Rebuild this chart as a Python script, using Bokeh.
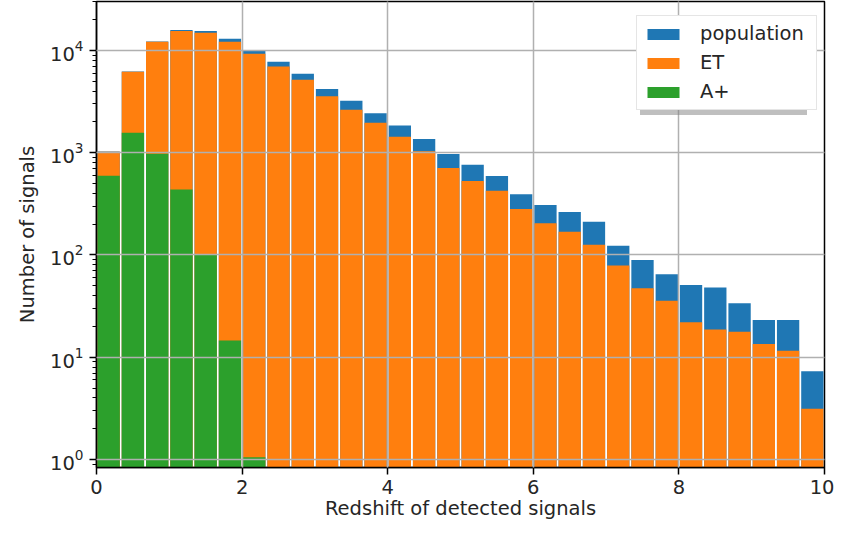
import numpy as np
from bokeh.plotting import figure
from bokeh.models import ColumnDataSource, Range1d, Legend, LegendItem, FixedTicker, LogTicker
from bokeh.embed import file_html
from bokeh.resources import INLINE

# ---- data ----
bin_edges = np.linspace(0, 10, 31)
population = [1026, 6250, 12250, 15850, 15500, 13030, 9890, 7770, 5930, 4200,
              3230, 2430, 1850, 1364, 973, 765, 593, 392, 309, 264,
              211, 123, 89.5, 64.8, 51, 48, 33.7, 23.2, 23.2, 7.3]
et = [1020, 6200, 12150, 15500, 14900, 12200, 9300, 6990, 5190, 3560,
      2640, 1970, 1437, 1032, 710, 530, 426, 282, 204, 169,
      126, 78.8, 47.3, 35.6, 22.0, 18.7, 17.8, 13.5, 11.55, 3.13]
aplus = [597, 1571, 980, 436, 100, 14.6, 1.05, 0, 0, 0,
         0, 0, 0, 0, 0, 0, 0, 0, 0, 0,
         0, 0, 0, 0, 0, 0, 0, 0, 0, 0]
labels = ["population", "ET", "A+"]
x_ticks = [0, 2, 4, 6, 8, 10]

BLUE, ORANGE, GREEN = "#1f77b4", "#ff7f0e", "#2ca02c"
FONT = "DejaVu Sans"
FS = "19.5px"

centers = (bin_edges[:-1] + bin_edges[1:]) / 2
bw = bin_edges[1] - bin_edges[0]

def src(vals):
    c = [x for x, v in zip(centers, vals) if v > 0]
    t = [v for v in vals if v > 0]
    return ColumnDataSource(dict(x=c, top=t))

p = figure(width=834, height=522, y_axis_type="log",
           x_range=Range1d(0, 10), y_range=Range1d(0.835, 30150),
           output_backend="svg", toolbar_location=None,
           min_border_left=96, min_border_right=10, min_border_top=1, min_border_bottom=0)

renderers = []
for vals, col in ((population, BLUE), (et, ORANGE), (aplus, GREEN)):
    renderers.append(p.vbar(x="x", top="top", bottom=0.1, width=bw * 0.92, source=src(vals),
                            fill_color=col, line_color=None))

# invisible renderers used only by the legend's shadow
ghosts = [p.vbar(x=[], top=[], bottom=0.1, width=0.1, fill_alpha=0, line_alpha=0)
          for _ in labels]

# grid on top of bars
for g in (p.xgrid, p.ygrid):
    g.level = "guide"
    g.grid_line_color = "#b0b0b0"
    g.grid_line_width = 1.5
p.xgrid.ticker = FixedTicker(ticks=x_ticks)

p.xaxis.ticker = FixedTicker(ticks=x_ticks)
p.yaxis.ticker = LogTicker(num_minor_ticks=10)

for ax in (p.xaxis, p.yaxis):
    ax.axis_line_color = "black"
    ax.axis_line_width = 1.5
    ax.major_tick_line_color = "black"
    ax.major_tick_line_width = 1.5
    ax.major_tick_out = 7
    ax.major_tick_in = 0
    ax.minor_tick_line_color = "black"
    ax.minor_tick_line_width = 1
    ax.minor_tick_out = 4
    ax.minor_tick_in = 0
    ax.major_label_text_font = FONT
    ax.major_label_text_font_size = FS
    ax.major_label_text_color = "#262626"
    ax.axis_label_text_font = FONT
    ax.axis_label_text_font_size = FS
    ax.axis_label_text_font_style = "normal"
    ax.axis_label_text_color = "#262626"
p.xaxis.minor_tick_line_color = None
p.xaxis.major_label_standoff = 5
p.xaxis.axis_label_standoff = 0
p.yaxis.major_label_standoff = 6
p.yaxis.axis_label_standoff = 8

p.xaxis.axis_label = "Redshift of detected signals"
p.yaxis.axis_label = "Number of signals"

p.outline_line_color = "black"
p.outline_line_width = 1.5
p.background_fill_color = "white"
p.border_fill_color = "white"

common = dict(padding=6, spacing=6, glyph_width=40, glyph_height=14, label_standoff=17,
              label_width=110, label_height=23)

shadow = Legend(items=[LegendItem(label=" ", renderers=[r]) for r in ghosts],
                location=(544, 352), label_text_font_size="1px", label_text_alpha=0,
                border_line_color=None, background_fill_color="#7f7f7f",
                background_fill_alpha=0.5, **common)
legend = Legend(items=[LegendItem(label=l, renderers=[r]) for l, r in zip(labels, renderers)],
                location=(540, 357), label_text_color="#262626",
                label_text_font=FONT, label_text_font_size=FS,
                border_line_color="#cccccc", border_line_width=1.5,
                background_fill_color="white", background_fill_alpha=1.0, **common)
p.add_layout(shadow)
p.add_layout(legend)

open("out.html", "w").write(file_html(p, INLINE))
